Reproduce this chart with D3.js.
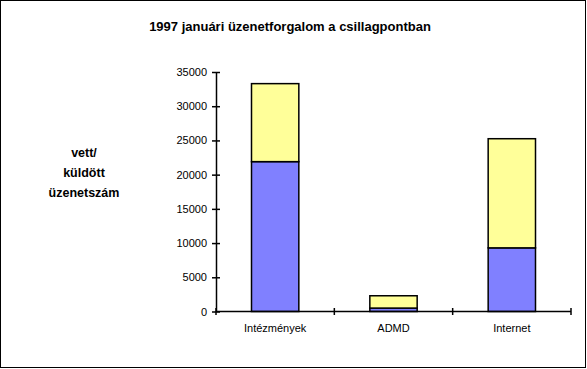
<!DOCTYPE html>
<html><head><meta charset="utf-8">
<script src="https://cdn.jsdelivr.net/npm/d3@7"></script>
<style>body{margin:0;background:#fff}svg{display:block}text{font-family:"Liberation Sans",Arial,sans-serif}</style>
</head><body>
<svg id="c" width="587" height="369"></svg>
<script>
const categories = ["Intézmények", "ADMD", "Internet"];
const lowerValues = [21900, 500, 9300];
const upperValues = [11400, 1800, 15950];
const yTicks = [0, 5000, 10000, 15000, 20000, 25000, 30000, 35000];
const title = "1997 januári üzenetforgalom a csillagpontban";
const yLabel = ["vett/", "küldött", "üzenetszám"];
const colors = ["#8080FF", "#FFFF99"];

const svg = d3.select("#c");
svg.append("rect").attr("x",0.5).attr("y",0.5).attr("width",585).attr("height",367)
  .attr("fill","#fff").attr("stroke","#000").attr("stroke-width",1);

const x = d3.scaleBand().domain(categories).range([216, 571]).paddingInner(0).paddingOuter(0);
const y = d3.scaleLinear().domain([0, 35000]).range([311.5, 72]);

const stackData = categories.map((c,i)=>({cat:c, lower:lowerValues[i], upper:upperValues[i]}));
const series = d3.stack().keys(["lower","upper"])(stackData);
const bw = x.bandwidth()*0.4;

series.forEach((s,si)=>{
  svg.append("g").selectAll("rect").data(s).join("rect")
    .attr("x", d=>x(d.data.cat)+(x.bandwidth()-bw)/2)
    .attr("y", d=>y(d[1]))
    .attr("width", bw)
    .attr("height", d=>y(d[0])-y(d[1]))
    .attr("fill", colors[si]).attr("stroke","#000").attr("stroke-width",1.5);
});

// y axis
const ya = svg.append("g").attr("transform","translate(216,0)")
  .call(d3.axisLeft(y).tickValues(yTicks).tickFormat(d3.format("d")).tickSize(4).tickSizeOuter(0));
ya.selectAll(".tick line").attr("x1",4).attr("x2",-4).attr("stroke","#000").attr("stroke-width",1.5);
ya.select(".domain").attr("stroke","#000").attr("stroke-width",1.5);
ya.selectAll("text").attr("font-size","11px").attr("x",-9).attr("fill","#000");

// x axis
const xa = svg.append("g").attr("transform","translate(0,311.5)");
xa.append("line").attr("x1",216).attr("x2",571).attr("stroke","#000").attr("stroke-width",1.5);
const bounds = [216, ...categories.map(c=>x(c)+x.bandwidth())];
xa.selectAll("line.t").data(bounds).join("line").attr("class","t")
  .attr("x1",d=>d).attr("x2",d=>d).attr("y1",-3.5).attr("y2",3.5).attr("stroke","#000").attr("stroke-width",1.5);
xa.selectAll("text").data(categories).join("text")
  .attr("x",d=>x(d)+x.bandwidth()/2).attr("y",20).attr("text-anchor","middle")
  .attr("font-size","11px").text(d=>d);

svg.append("text").attr("x",290).attr("y",31).attr("text-anchor","middle")
  .attr("font-size","13px").attr("font-weight","bold").text(title);

svg.append("g").selectAll("text").data(yLabel).join("text")
  .attr("x",84).attr("y",(d,i)=>157+i*20).attr("text-anchor","middle")
  .attr("font-size","12.5px").attr("font-weight","bold").text(d=>d);
</script>
</body></html>
